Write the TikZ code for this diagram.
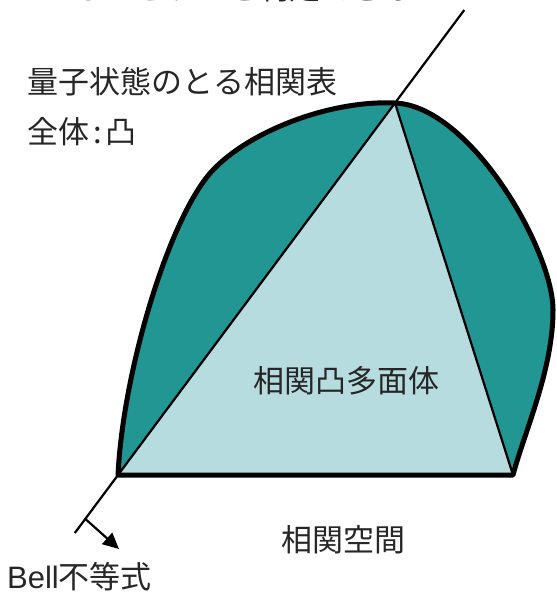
\documentclass[tikz,border=0pt]{standalone}
\usepackage{fontspec}
\setmainfont{Noto Sans CJK JP}
\newfontfamily\latinfont{Liberation Sans}
\usetikzlibrary{arrows.meta,calc}
\definecolor{tealdark}{RGB}{33,150,147}
\definecolor{teallight}{RGB}{183,220,224}
\begin{document}
\begin{tikzpicture}[x=1pt,y=-1pt,
  lbl/.style={inner sep=0pt, text=black!85, font=\fontsize{31}{36}\selectfont},
  thinline/.style={line width=2.2pt, black},
  outline/.style={line width=5pt, black, line join=round}]
\clip (0,0) rectangle (556,596);
\coordinate (A) at (118,475);
\coordinate (B) at (513,475);
\coordinate (C) at (395,103);
\def\blob{(A) .. controls (123,370) and (170,215) .. (213,170) .. controls (250,131) and (330,100) .. (C) .. controls (470,106) and (553,250) .. (553,310) .. controls (553,370) and (525,430) .. (B) -- cycle}
\fill[tealdark] \blob;
\fill[teallight] (A) -- (C) -- (B) -- cycle;
\draw[thinline] (C) -- (B);
\draw[outline] \blob;
\coordinate (L1) at ($(A)!-0.156!(C)$);
\coordinate (L2) at ($(A)!1.25!(C)$);
\coordinate (T0) at ($(A)!-0.118!(C)$);
\coordinate (T1) at (119,549);
\draw[thinline] (L1) -- (L2);
\draw[thinline, -{Triangle[length=16pt,width=15pt]}] (T0) -- (T1);
\node[lbl, anchor=base east] (top) at (445,-0.5) {もつれているかどうかを判定できない};
\node[lbl, anchor=west] (q) at (27,82) {量子状態のとる相関表};
\node[lbl, anchor=west] (w) at (27,132) {全体\hspace{4pt}:\hspace{4pt}凸};
\node[lbl] (p) at (346,381) {相関凸多面体};
\node[lbl] (s) at (343,540) {相関空間};
\node[lbl, anchor=west] (b) at (7,577) {{\latinfont Bell}不等式};
\end{tikzpicture}
\end{document}
